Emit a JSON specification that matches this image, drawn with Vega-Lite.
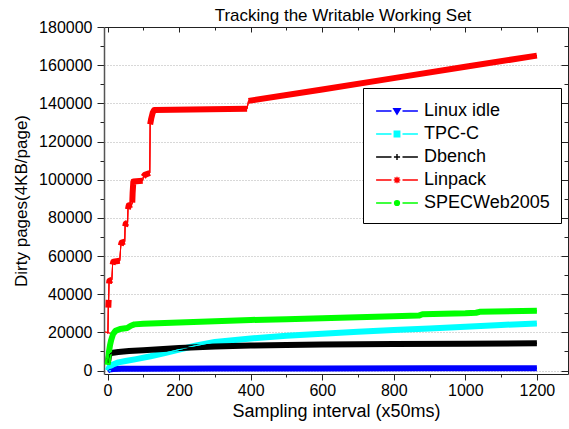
{
  "$schema": "https://vega.github.io/schema/vega-lite/v6.json",
  "width": 464,
  "height": 347,
  "autosize": {"type": "none"},
  "padding": {"left": 104, "top": 27, "right": 1, "bottom": 55},
  "background": "white",
  "title": {
    "text": "Tracking the Writable Working Set",
    "fontSize": 17,
    "fontWeight": "normal",
    "font": "Liberation Sans",
    "color": "black",
    "anchor": "middle",
    "dx": 7,
    "offset": -6
  },
  "config": {
    "font": "Liberation Sans",
    "view": {"stroke": null},
    "axis": {
      "domainColor": "#222",
      "tickColor": "#222",
      "labelColor": "black",
      "titleColor": "black",
      "labelFont": "Liberation Sans",
      "titleFont": "Liberation Sans",
      "titleFontWeight": "normal"
    }
  },
  "data": {
    "values": [
      {"series": "Linux idle", "seg": "s", "t": 0, "pages": 0},
      {"series": "Linux idle", "seg": "s", "t": 5, "pages": 500},
      {"series": "Linux idle", "seg": "s", "t": 15, "pages": 800},
      {"series": "Linux idle", "seg": "s", "t": 40, "pages": 950},
      {"series": "Linux idle", "seg": "s", "t": 100, "pages": 1000},
      {"series": "Linux idle", "seg": "s", "t": 300, "pages": 1050},
      {"series": "Linux idle", "seg": "s", "t": 600, "pages": 1100},
      {"series": "Linux idle", "seg": "s", "t": 900, "pages": 1150},
      {"series": "Linux idle", "seg": "s", "t": 1200, "pages": 1250},

      {"series": "TPC-C", "seg": "s", "t": 0, "pages": 0},
      {"series": "TPC-C", "seg": "s", "t": 5, "pages": 1800},
      {"series": "TPC-C", "seg": "s", "t": 15, "pages": 3200},
      {"series": "TPC-C", "seg": "s", "t": 30, "pages": 4300},
      {"series": "TPC-C", "seg": "s", "t": 50, "pages": 5000},
      {"series": "TPC-C", "seg": "s", "t": 80, "pages": 6000},
      {"series": "TPC-C", "seg": "s", "t": 120, "pages": 7500},
      {"series": "TPC-C", "seg": "s", "t": 160, "pages": 9200},
      {"series": "TPC-C", "seg": "s", "t": 200, "pages": 11000},
      {"series": "TPC-C", "seg": "s", "t": 245, "pages": 13000},
      {"series": "TPC-C", "seg": "s", "t": 300, "pages": 15000},
      {"series": "TPC-C", "seg": "s", "t": 400, "pages": 16800},
      {"series": "TPC-C", "seg": "s", "t": 500, "pages": 18200},
      {"series": "TPC-C", "seg": "s", "t": 600, "pages": 19300},
      {"series": "TPC-C", "seg": "s", "t": 700, "pages": 20300},
      {"series": "TPC-C", "seg": "s", "t": 800, "pages": 21200},
      {"series": "TPC-C", "seg": "s", "t": 900, "pages": 22000},
      {"series": "TPC-C", "seg": "s", "t": 1000, "pages": 23000},
      {"series": "TPC-C", "seg": "s", "t": 1100, "pages": 23900},
      {"series": "TPC-C", "seg": "s", "t": 1200, "pages": 24600},

      {"series": "Dbench", "seg": "s", "t": 1, "pages": 4000},
      {"series": "Dbench", "seg": "s", "t": 4, "pages": 8000},
      {"series": "Dbench", "seg": "s", "t": 10, "pages": 9200},
      {"series": "Dbench", "seg": "s", "t": 30, "pages": 9700},
      {"series": "Dbench", "seg": "s", "t": 60, "pages": 10200},
      {"series": "Dbench", "seg": "s", "t": 100, "pages": 10700},
      {"series": "Dbench", "seg": "s", "t": 200, "pages": 11800},
      {"series": "Dbench", "seg": "s", "t": 300, "pages": 12600},
      {"series": "Dbench", "seg": "s", "t": 400, "pages": 13100},
      {"series": "Dbench", "seg": "s", "t": 500, "pages": 13400},
      {"series": "Dbench", "seg": "s", "t": 600, "pages": 13600},
      {"series": "Dbench", "seg": "s", "t": 800, "pages": 13900},
      {"series": "Dbench", "seg": "s", "t": 1000, "pages": 14100},
      {"series": "Dbench", "seg": "s", "t": 1200, "pages": 14300},

      {"series": "Linpack", "seg": "a", "t": 0, "pages": 19500},
      {"series": "Linpack", "seg": "a", "t": 1, "pages": 20200},
      {"series": "Linpack", "seg": "b", "t": 2, "pages": 33000},
      {"series": "Linpack", "seg": "b", "t": 3, "pages": 37000},
      {"series": "Linpack", "seg": "c", "t": 4, "pages": 45500},
      {"series": "Linpack", "seg": "c", "t": 5, "pages": 47000},
      {"series": "Linpack", "seg": "c", "t": 12, "pages": 47500},
      {"series": "Linpack", "seg": "d", "t": 14, "pages": 55500},
      {"series": "Linpack", "seg": "d", "t": 16, "pages": 57000},
      {"series": "Linpack", "seg": "d", "t": 34, "pages": 57500},
      {"series": "Linpack", "seg": "e", "t": 37, "pages": 65500},
      {"series": "Linpack", "seg": "e", "t": 39, "pages": 67000},
      {"series": "Linpack", "seg": "e", "t": 48, "pages": 67500},
      {"series": "Linpack", "seg": "f", "t": 49, "pages": 75500},
      {"series": "Linpack", "seg": "f", "t": 51, "pages": 77000},
      {"series": "Linpack", "seg": "f", "t": 56, "pages": 77500},
      {"series": "Linpack", "seg": "g", "t": 57, "pages": 84500},
      {"series": "Linpack", "seg": "g", "t": 59, "pages": 86500},
      {"series": "Linpack", "seg": "g", "t": 68, "pages": 87000},
      {"series": "Linpack", "seg": "h", "t": 69, "pages": 88000},
      {"series": "Linpack", "seg": "h", "t": 70, "pages": 93000},
      {"series": "Linpack", "seg": "h", "t": 72, "pages": 99000},
      {"series": "Linpack", "seg": "h", "t": 98, "pages": 99500},
      {"series": "Linpack", "seg": "i", "t": 100, "pages": 101500},
      {"series": "Linpack", "seg": "i", "t": 104, "pages": 102500},
      {"series": "Linpack", "seg": "i", "t": 118, "pages": 103500},
      {"series": "Linpack", "seg": "j", "t": 119, "pages": 129000},
      {"series": "Linpack", "seg": "j", "t": 122, "pages": 132000},
      {"series": "Linpack", "seg": "j", "t": 126, "pages": 135000},
      {"series": "Linpack", "seg": "j", "t": 130, "pages": 136500},
      {"series": "Linpack", "seg": "j", "t": 390, "pages": 137200},
      {"series": "Linpack", "seg": "k", "t": 394, "pages": 141300},
      {"series": "Linpack", "seg": "k", "t": 600, "pages": 147300},
      {"series": "Linpack", "seg": "k", "t": 800, "pages": 153200},
      {"series": "Linpack", "seg": "k", "t": 1000, "pages": 159200},
      {"series": "Linpack", "seg": "k", "t": 1200, "pages": 165000},

      {"series": "SPECWeb2005", "seg": "s", "t": 0, "pages": 3000},
      {"series": "SPECWeb2005", "seg": "s", "t": 2, "pages": 6000},
      {"series": "SPECWeb2005", "seg": "s", "t": 4, "pages": 10000},
      {"series": "SPECWeb2005", "seg": "s", "t": 7, "pages": 13500},
      {"series": "SPECWeb2005", "seg": "s", "t": 10, "pages": 16000},
      {"series": "SPECWeb2005", "seg": "s", "t": 15, "pages": 19000},
      {"series": "SPECWeb2005", "seg": "s", "t": 22, "pages": 20800},
      {"series": "SPECWeb2005", "seg": "s", "t": 35, "pages": 21800},
      {"series": "SPECWeb2005", "seg": "s", "t": 55, "pages": 22300},
      {"series": "SPECWeb2005", "seg": "s", "t": 65, "pages": 23500},
      {"series": "SPECWeb2005", "seg": "s", "t": 75, "pages": 24200},
      {"series": "SPECWeb2005", "seg": "s", "t": 100, "pages": 24500},
      {"series": "SPECWeb2005", "seg": "s", "t": 200, "pages": 25200},
      {"series": "SPECWeb2005", "seg": "s", "t": 300, "pages": 25800},
      {"series": "SPECWeb2005", "seg": "s", "t": 400, "pages": 26500},
      {"series": "SPECWeb2005", "seg": "s", "t": 500, "pages": 26900},
      {"series": "SPECWeb2005", "seg": "s", "t": 600, "pages": 27400},
      {"series": "SPECWeb2005", "seg": "s", "t": 700, "pages": 27900},
      {"series": "SPECWeb2005", "seg": "s", "t": 800, "pages": 28400},
      {"series": "SPECWeb2005", "seg": "s", "t": 870, "pages": 28800},
      {"series": "SPECWeb2005", "seg": "s", "t": 880, "pages": 29500},
      {"series": "SPECWeb2005", "seg": "s", "t": 1000, "pages": 30000},
      {"series": "SPECWeb2005", "seg": "s", "t": 1030, "pages": 30300},
      {"series": "SPECWeb2005", "seg": "s", "t": 1040, "pages": 30800},
      {"series": "SPECWeb2005", "seg": "s", "t": 1200, "pages": 31300}
    ]
  },
  "layer": [
    {
      "mark": {"type": "line", "strokeWidth": 1},
      "encoding": {
        "x": {
          "field": "t", "type": "quantitative",
          "scale": {"domain": [-10, 1287], "nice": false, "zero": false},
          "axis": {
            "orient": "bottom", "values": [100, 300, 500, 700, 900, 1100],
            "tickSize": 3, "labels": false, "domain": false, "grid": false, "title": null
          }
        },
        "y": {
          "field": "pages", "type": "quantitative",
          "scale": {"domain": [-1800, 180000], "nice": false, "zero": false},
          "axis": {
            "orient": "left",
            "values": [10000, 30000, 50000, 70000, 90000, 110000, 130000, 150000, 170000],
            "tickSize": 4, "labels": false, "domain": false, "grid": false, "title": null
          }
        },
        "color": {
          "field": "series", "type": "nominal",
          "scale": {
            "domain": ["Linux idle", "TPC-C", "Dbench", "Linpack", "SPECWeb2005"],
            "range": ["#0000ff", "#00ffff", "#000000", "#ff0000", "#00ff00"]
          },
          "legend": {
            "orient": "none",
            "legendX": 259,
            "legendY": 61,
            "title": null,
            "padding": 11,
            "rowPadding": 2,
            "strokeColor": "black",
            "fillColor": "white",
            "cornerRadius": 0,
            "symbolSize": 484,
            "symbolOffset": 11,
            "labelOffset": 15,
            "labelFontSize": 18,
            "labelFont": "Liberation Sans",
            "labelColor": "black",
            "encode": {
              "symbols": {
                "update": {
                  "shape": {
                    "signal": "datum.value === 'Linux idle' ? 'M-1.9,0H-0.5M0.5,0H1.9M-0.3,-0.22L0.3,-0.22L0,0.28Z' : datum.value === 'TPC-C' ? 'M-1.9,0H-0.5M0.5,0H1.9M-0.25,-0.25H0.25V0.25H-0.25Z' : datum.value === 'Dbench' ? 'M-1.9,0H-0.5M0.5,0H1.9M-0.28,0H0.28M0,-0.28V0.28' : datum.value === 'Linpack' ? 'M-1.9,0H-0.5M0.5,0H1.9M-0.3,0H0.3M0,-0.3V0.3M-0.22,-0.22L0.22,0.22M-0.22,0.22L0.22,-0.22' : 'M-1.9,0H-0.5M0.5,0H1.9M-0.22,0A0.22,0.22 0 1,0 0.22,0A0.22,0.22 0 1,0 -0.22,0Z'"
                  },
                  "fill": {"scale": "color", "field": "value"},
                  "stroke": {"scale": "color", "field": "value"},
                  "strokeWidth": {"value": 1.4},
                  "opacity": {"value": 1},
                  "size": {"value": 484}
                }
              }
            }
          }
        },
        "order": {"field": "t", "type": "quantitative"}
      }
    },
    {
      "mark": {"type": "line", "strokeWidth": 6, "strokeCap": "butt", "strokeJoin": "round"},
      "encoding": {
        "x": {
          "field": "t", "type": "quantitative",
          "scale": {"domain": [-10, 1287], "nice": false, "zero": false},
          "axis": {
            "orient": "bottom", "format": "d", "values": [0, 200, 400, 600, 800, 1000, 1200],
            "tickSize": 6, "labelFontSize": 16, "labelPadding": 2, "grid": false,
            "title": "Sampling interval (x50ms)", "titleFontSize": 18, "titlePadding": 4
          }
        },
        "y": {
          "field": "pages", "type": "quantitative",
          "scale": {"domain": [-1800, 180000], "nice": false, "zero": false},
          "axis": {
            "orient": "left", "format": "d",
            "values": [0, 20000, 40000, 60000, 80000, 100000, 120000, 140000, 160000, 180000],
            "tickSize": 7, "labelFontSize": 16, "labelPadding": 5,
            "domainColor": "#555", "domainWidth": 1.5,
            "grid": true, "gridColor": "#b0b0b0", "gridDash": [1, 2], "gridWidth": 1,
            "title": "Dirty pages(4KB/page)", "titleFontSize": 17, "titlePadding": 8
          }
        },
        "color": {"field": "series", "type": "nominal"},
        "detail": {"field": "seg", "type": "nominal"},
        "order": {"field": "t", "type": "quantitative"}
      }
    },
    {
      "mark": {"type": "line", "strokeWidth": 1},
      "encoding": {
        "x": {
          "field": "t", "type": "quantitative",
          "scale": {"domain": [-10, 1287], "nice": false, "zero": false},
          "axis": {
            "orient": "top", "values": [0, 200, 400, 600, 800, 1000, 1200],
            "tickSize": -5, "labels": false, "domain": true, "grid": false, "title": null
          }
        },
        "y": {
          "field": "pages", "type": "quantitative",
          "scale": {"domain": [-1800, 180000], "nice": false, "zero": false},
          "axis": {
            "orient": "right",
            "values": [0, 20000, 40000, 60000, 80000, 100000, 120000, 140000, 160000, 180000],
            "tickSize": -7, "labels": false, "domain": true, "grid": false, "title": null
          }
        },
        "color": {"field": "series", "type": "nominal"},
        "order": {"field": "t", "type": "quantitative"}
      }
    },
    {
      "mark": {"type": "line", "strokeWidth": 1},
      "encoding": {
        "x": {
          "field": "t", "type": "quantitative",
          "scale": {"domain": [-10, 1287], "nice": false, "zero": false},
          "axis": {
            "orient": "top", "values": [100, 300, 500, 700, 900, 1100],
            "tickSize": -3, "labels": false, "domain": false, "grid": false, "title": null
          }
        },
        "y": {
          "field": "pages", "type": "quantitative",
          "scale": {"domain": [-1800, 180000], "nice": false, "zero": false},
          "axis": {
            "orient": "right",
            "values": [10000, 30000, 50000, 70000, 90000, 110000, 130000, 150000, 170000],
            "tickSize": -4, "labels": false, "domain": false, "grid": false, "title": null
          }
        },
        "color": {"field": "series", "type": "nominal"},
        "order": {"field": "t", "type": "quantitative"}
      }
    }
  ],
  "resolve": {"axis": {"x": "independent", "y": "independent"}}
}
